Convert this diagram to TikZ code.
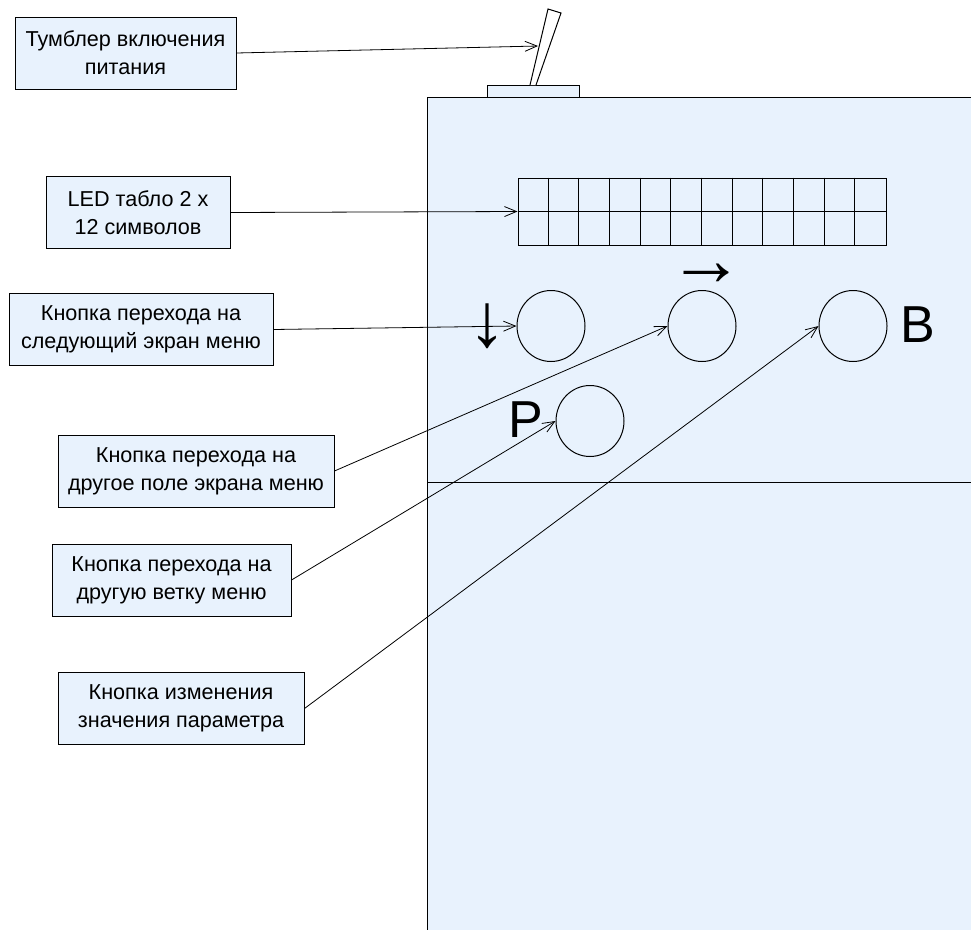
\documentclass[tikz,border=0pt]{standalone}
\usepackage{fontspec}
\setmainfont{Liberation Sans}
\usetikzlibrary{arrows.meta,shapes.geometric,calc}
\definecolor{panel}{HTML}{E8F2FD}
\begin{document}
\begin{tikzpicture}[x=1pt,y=-1pt,
  lbl/.style={draw, fill=panel, line width=1pt, inner sep=0pt, align=center,
    font=\fontsize{21.6}{28}\selectfont, minimum height=72pt},
  conn/.style={line width=0.8pt, -{Straight Barb[length=12pt,width=10pt]}},
  btn/.style={draw, ellipse, line width=1pt, minimum width=68pt, minimum height=71pt, inner sep=0pt},
  big/.style={font=\fontsize{52}{52}\selectfont, inner sep=0pt},
  arr/.style={font=\fontsize{76}{76}\selectfont, inner sep=0pt}
]
\useasboundingbox (0,0) rectangle (971,929);
% panel
\fill[panel] (427,97) rectangle (972,930);
\draw[line width=1pt] (427,930) -- (427,97) -- (972,97);
\draw[line width=1pt] (427,482) -- (972,482);
% switch
\draw[line width=1pt, fill=panel] (487,85) rectangle (579,97);
\draw[line width=1pt, fill=white] (530,85) -- (548,9) -- (561,13) -- (536,85);
\coordinate (lever) at (538,46);
% LED display
\node[draw, line width=1pt, minimum width=368pt, minimum height=67pt, inner sep=0pt] (grid) at (702,211.5) {};
\foreach \i in {1,...,11} \draw[line width=1pt] ($(grid.north west)+(\i*30.667,0)$) -- ++(0,67);
\draw[line width=1pt] (grid.west) -- (grid.east);
% buttons
\node[btn] (bdown) at (551,326) {};
\node[btn] (bright) at (702,326) {};
\node[btn] (bB) at (853,326) {};
\node[btn] (bP) at (590,421) {};
\node[big] (lP) at (526,420) {P};
\node[big] (lB) at (918,325) {B};
\node[arr] (adown) at (487,326) {↓};
\node[arr] (aright) at (706,275) {→};
% labels
\node[lbl, minimum width=221pt] (tumb) at (125.5,53) {Тумблер включения\\питания};
\node[lbl, minimum width=184pt] (led) at (138,212.5) {LED табло 2 х\\12 символов};
\node[lbl, minimum width=264pt] (next) at (141,329.5) {Кнопка перехода на\\следующий экран меню};
\node[lbl, minimum width=276pt] (field) at (196,471) {Кнопка перехода на\\другое поле экрана меню};
\node[lbl, minimum width=239pt] (branch) at (171.5,580) {Кнопка перехода на\\другую ветку меню};
\node[lbl, minimum width=246pt] (value) at (181,708.5) {Кнопка изменения\\значения параметра};
% connectors
\draw[conn] (tumb.east) -- (lever);
\draw[conn] (led.east) -- (grid.west);
\draw[conn] (next.east) -- (bdown.west);
\draw[conn] (field.east) -- (bright.west);
\draw[conn] (branch.east) -- (bP.west);
\draw[conn] (value.east) -- (bB.west);
\end{tikzpicture}
\end{document}
